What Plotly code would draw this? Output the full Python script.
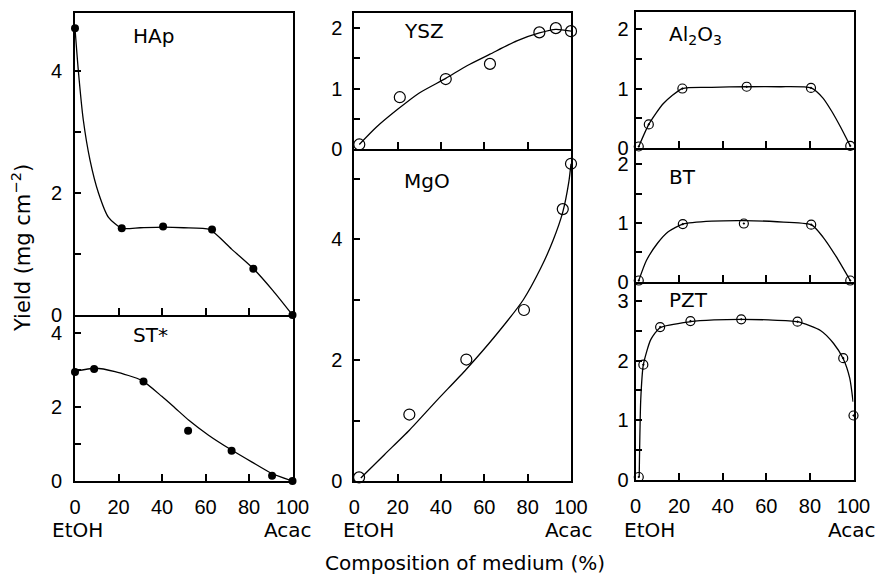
import plotly.graph_objects as go

W, H = 879, 576
TICKFONT = "Liberation Sans, Arial, sans-serif"
TEXTFONT = "DejaVu Sans, Liberation Sans, sans-serif"

# ---------------- data ----------------
# HAp (filled circles)
hap_x = [0, 21.5, 40.5, 63, 82, 100]
hap_y = [4.70, 1.42, 1.45, 1.40, 0.76, 0.0]
hap_curve_x = [0, 1.5, 3.8, 6.9, 10.8, 15.4, 21.5, 30, 40.5, 50, 62, 72, 82, 91, 100]
hap_curve_y = [4.70, 4.02, 3.2, 2.54, 2.0, 1.60, 1.42, 1.43, 1.44, 1.43, 1.40, 1.08, 0.76, 0.40, 0.0]

# ST* (filled circles)
st_x = [0, 8.8, 31.5, 52, 72, 90.6, 100]
st_y = [2.95, 3.03, 2.69, 1.36, 0.82, 0.14, 0.0]
st_curve_x = [0, 9.2, 18.4, 30.7, 39.9, 46.1, 52.2, 61.4, 72.2, 81.4, 90.6, 100]
st_curve_y = [2.97, 3.05, 2.96, 2.72, 2.29, 1.97, 1.65, 1.24, 0.83, 0.51, 0.20, 0.0]

# YSZ (open circles)
ysz_x = [2.3, 21, 42.2, 62.6, 85.4, 93, 100]
ysz_y = [0.08, 0.86, 1.16, 1.41, 1.93, 2.00, 1.95]
ysz_curve_x = [2.3, 10, 20, 30, 42.2, 52, 62.6, 75, 85.4, 93, 100]
ysz_curve_y = [0.08, 0.36, 0.66, 0.93, 1.17, 1.38, 1.57, 1.79, 1.92, 1.98, 1.95]

# MgO (open circles)
mgo_x = [2.2, 25.4, 51.7, 78.3, 96.2, 100]
mgo_y = [0.06, 1.10, 2.01, 2.83, 4.50, 5.25]
mgo_curve_x = [3, 14, 25.4, 38, 51.7, 65, 78, 86, 91.7, 96.2, 99, 100]
mgo_curve_y = [0.05, 0.44, 0.84, 1.33, 1.85, 2.40, 3.0, 3.52, 3.98, 4.45, 4.95, 5.25]

# Al2O3 (dotted circles)
al_x = [1.5, 6.1, 21.5, 51, 80.5, 98.5]
al_y = [0.03, 0.40, 1.00, 1.03, 1.01, 0.04]
al_curve_x = [1.5, 6.1, 12.8, 21.5, 35, 51, 66, 80.5, 86, 90, 94, 98.5]
al_curve_y = [0.03, 0.40, 0.75, 1.00, 1.02, 1.03, 1.03, 1.01, 0.84, 0.62, 0.36, 0.04]

# BT (dotted circles)
bt_x = [1.5, 21.7, 49.7, 80.6, 98.5]
bt_y = [0.02, 0.98, 0.99, 0.97, 0.02]
bt_curve_x = [1.5, 5, 10, 15, 21.7, 35, 49.7, 65, 80.6, 86, 92, 98.5]
bt_curve_y = [0.02, 0.36, 0.65, 0.85, 0.98, 1.03, 1.04, 1.02, 0.97, 0.76, 0.43, 0.02]

# PZT (dotted circles)
pzt_x = [1.5, 3.6, 11.3, 25.2, 48.5, 74.3, 95.3, 100]
pzt_y = [0.05, 1.93, 2.56, 2.66, 2.69, 2.65, 2.04, 1.08]
pzt_curve_x = [1.7, 2.4, 3.6, 7, 11.3, 25.2, 36, 48.5, 61, 74.3, 85, 90.8, 95.3, 98.3, 99.8]
pzt_curve_y = [0.05, 1.34, 1.93, 2.35, 2.55, 2.65, 2.68, 2.69, 2.68, 2.65, 2.50, 2.29, 2.03, 1.70, 1.31]

x_tick_vals = [0, 20, 40, 60, 80, 100]
x_tick_text = ["0", "20", "40", "60", "80", "100"]


def fx(px):
    return px / W


def fy(py):
    return 1 - py / H


# ---------------- layout geometry (reference pixels) ----------------
cols = {"L": (75, 292.5), "M": (354.3, 571), "R": (635.5, 853.5)}
ylab_standoff = {"L": 7, "M": 6, "R": 1}
panels = [
    # name, col, top, bottom, ymax, ytickvals, yticktext, bottom panel?, has panel above?, label, lx, ly
    ("HAp", "L", 13, 315, 4.95, [0, 1, 2, 3, 4], ["0", "", "2", "", "4"], False, False, "HAp", 131, 36),
    ("ST", "L", 315, 481, 4.49, [0, 1, 2, 3, 4], ["0", "", "2", "", "4"], True, True, "ST*", 131, 335),
    ("YSZ", "M", 13, 149.3, 2.25, [0, 0.5, 1, 1.5, 2], ["0", "", "1", "", "2"], False, False, "YSZ", 402, 31),
    ("MgO", "M", 149.3, 481, 5.49, [0, 1, 2, 3, 4, 5], ["0", "", "2", "", "4", ""], True, True, "MgO", 402, 181),
    ("Al", "R", 12, 148.3, 2.28, [0, 0.5, 1, 1.5, 2], ["0", "", "1", "", "2"], False, False,
     "Al<sub>2</sub>O<sub>3</sub>", 667, 35),
    ("BT", "R", 148.3, 281.7, 2.27, [0, 0.5, 1, 1.5, 2], ["0", "", "1", "", "2"], False, True, "BT", 667, 177),
    ("PZT", "R", 281.7, 480, 3.32, [0, 0.5, 1, 1.5, 2, 2.5, 3], ["0", "", "1", "", "2", "", "3"], True, True,
     "PZT", 667, 300),
]

series = {
    "HAp": (hap_x, hap_y, hap_curve_x, hap_curve_y, "filled"),
    "ST": (st_x, st_y, st_curve_x, st_curve_y, "filled"),
    "YSZ": (ysz_x, ysz_y, ysz_curve_x, ysz_curve_y, "open"),
    "MgO": (mgo_x, mgo_y, mgo_curve_x, mgo_curve_y, "open"),
    "Al": (al_x, al_y, al_curve_x, al_curve_y, "dot"),
    "BT": (bt_x, bt_y, bt_curve_x, bt_curve_y, "dot"),
    "PZT": (pzt_x, pzt_y, pzt_curve_x, pzt_curve_y, "dot"),
}

marker_styles = {
    "filled": dict(symbol="circle", size=8, color="black", line=dict(width=0)),
    "open": dict(symbol="circle-open", size=11, color="black", line=dict(width=1.2)),
    "dot": dict(symbol="circle-open-dot", size=9, color="black", line=dict(width=1.2)),
}

fig = go.Figure()
layout = dict()
annotations = []

for i, (name, col, top, bot, ymax, ytv, ytt, is_bottom, has_above, label, lx, ly) in enumerate(panels, start=1):
    xs, ys, cx, cy, mstyle = series[name]
    xa = "x" if i == 1 else f"x{i}"
    ya = "y" if i == 1 else f"y{i}"
    fig.add_trace(go.Scatter(x=cx, y=cy, mode="lines", xaxis=xa, yaxis=ya,
                             line=dict(color="black", width=1.3, shape="spline", smoothing=0.6),
                             cliponaxis=False, showlegend=False, hoverinfo="skip"))
    fig.add_trace(go.Scatter(x=xs, y=ys, mode="markers", xaxis=xa, yaxis=ya,
                             marker=marker_styles[mstyle], cliponaxis=False, showlegend=False))
    x0, x1 = cols[col]
    xkey = "xaxis" if i == 1 else f"xaxis{i}"
    ykey = "yaxis" if i == 1 else f"yaxis{i}"
    layout[xkey] = dict(
        domain=[fx(x0), fx(x1)], anchor=ya, range=[0, 100],
        showline=True, mirror=not has_above, linecolor="black", linewidth=2,
        ticks="inside", ticklen=7, tickwidth=1.5, tickcolor="black",
        tickvals=x_tick_vals if is_bottom else [20, 40, 60, 80],
        ticktext=x_tick_text if is_bottom else None,
        showticklabels=is_bottom, showgrid=False, zeroline=False,
        tickfont=dict(size=20, color="black", family=TICKFONT),
        ticklabelstandoff=7, automargin=False, fixedrange=True,
    )
    layout[ykey] = dict(
        domain=[fy(bot), fy(top)], anchor=xa, range=[0, ymax],
        showline=True, mirror=True, linecolor="black", linewidth=2,
        ticks="inside", ticklen=6, tickwidth=1.5, tickcolor="black",
        tickvals=ytv, ticktext=ytt, showgrid=False, zeroline=False,
        tickfont=dict(size=20, color="black", family=TICKFONT),
        ticklabelstandoff=ylab_standoff[col], automargin=False, fixedrange=True,
    )
    annotations.append(dict(text=label, x=fx(lx), y=fy(ly), xref="paper", yref="paper",
                            xanchor="left", yanchor="middle", showarrow=False,
                            font=dict(size=20, color="black", family=TEXTFONT)))

# EtOH / Acac labels under the bottom axes
for tx, px in [("EtOH", 77), ("EtOH", 368), ("EtOH", 649), ("Acac", 288), ("Acac", 569), ("Acac", 852)]:
    annotations.append(dict(text=tx, x=fx(px), y=fy(530), xref="paper", yref="paper",
                            xanchor="center", yanchor="middle", showarrow=False,
                            font=dict(size=20, color="black", family=TEXTFONT)))

annotations.append(dict(text="Composition of medium (%)", x=fx(465), y=fy(563),
                        xref="paper", yref="paper", xanchor="center", yanchor="middle",
                        showarrow=False, font=dict(size=20, color="black", family=TEXTFONT)))
annotations.append(dict(text="Yield (mg cm<sup>\u22122</sup>)", x=fx(21), y=fy(248),
                        xref="paper", yref="paper", xanchor="center", yanchor="middle",
                        textangle=-90, showarrow=False,
                        font=dict(size=21, color="black", family=TEXTFONT)))

fig.update_layout(**layout)
fig.update_layout(width=W, height=H, margin=dict(l=0, r=0, t=0, b=0),
                  paper_bgcolor="white", plot_bgcolor="white",
                  annotations=annotations, showlegend=False,
                  font=dict(family=TEXTFONT, color="black"))

# remove the page's default body margin so the figure fills the window exactly
fig.write_html("out.html", config={"displayModeBar": False},
               post_script="document.body.style.margin='0';document.body.style.overflow='hidden';")
